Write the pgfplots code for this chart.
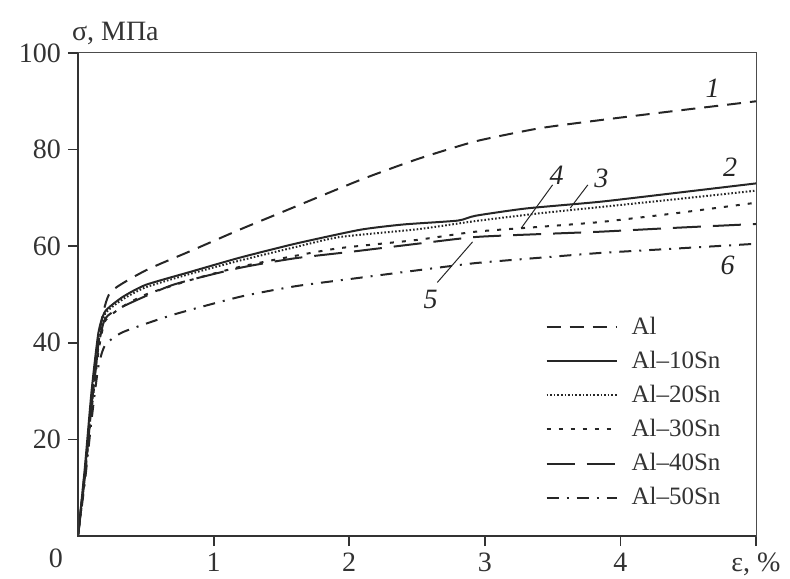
\documentclass[border=0pt]{standalone}
\usepackage{fontspec}
\setmainfont{Liberation Serif}
\usepackage{pgfplots}
\pgfplotsset{compat=1.18}

\pgfplotstableread{
x y
0 0
0.06 16
0.12 32
0.17 44
0.24 50.5
0.5 55
0.83 59
1.19 63.4
1.5 67
2.08 73.7
2.5 78
2.93 81.7
3.4 84.4
3.85 86.1
4.4 88
5 90
}\dataAl

\pgfplotstableread{
x y
0 0
0.05 14
0.1 30
0.15 42
0.2 46.5
0.33 49.5
0.5 52
0.83 54.7
1.19 57.6
1.6 60.5
2.08 63.4
2.4 64.5
2.8 65.3
2.93 66.3
3.3 67.8
3.85 69.2
4.4 71
5 73
}\dataTen

\pgfplotstableread{
x y
0 0
0.05 13
0.1 28
0.15 40
0.2 46
0.33 49
0.5 51.5
0.83 54.3
1.19 57
1.6 59.8
1.93 61.9
2.5 63.5
2.93 65.2
3.4 66.8
3.85 68.1
4.4 69.7
5 71.5
}\dataTwenty

\pgfplotstableread{
x y
0 0
0.05 12
0.1 26
0.15 38
0.2 44.5
0.33 47.5
0.5 50
0.83 53
1.19 55.7
1.6 58
1.93 59.6
2.5 61.3
2.93 63
3.4 64
3.85 65
4.4 66.8
5 69
}\dataThirty

\pgfplotstableread{
x y
0 0
0.05 12
0.1 27
0.15 39
0.2 45
0.33 47.5
0.7 52
1.19 55.5
1.6 57.5
2 58.8
2.5 60.5
2.93 61.9
3.4 62.5
3.85 63
4.4 63.8
5 64.6
}\dataForty

\pgfplotstableread{
x y
0 0
0.05 11
0.1 24
0.15 35
0.2 39.5
0.33 42.2
0.7 45.8
1.19 49.5
1.6 51.7
2.06 53.4
2.5 55
2.93 56.5
3.4 57.6
3.85 58.6
4.4 59.5
5 60.5
}\dataFifty

\begin{document}
\begin{tikzpicture}
\useasboundingbox (-39pt,-21pt) rectangle (356pt,268pt);
\begin{axis}[
    scale only axis,
    width=339pt, height=241.5pt,
    xmin=0, xmax=5,
    ymin=0, ymax=100,
    clip=false,
    xtick={1,2,3,4,5},
    xticklabels={1,2,3,4,{ε, \%}},
    ytick={20,40,60,80,100},
    tick pos=left,
    tick align=outside,
    major tick length=5pt,
    tick style={line width=0.9pt, black!80},
    axis line style={line width=0.5pt, black!70},
    /pgf/number format/assume math mode=true,
    tick label style={font=\fontsize{14}{16}\selectfont, black!80},
    ylabel={σ, МПа},
    ylabel style={rotate=-90, at={(axis description cs:0,1)}, anchor=base west,
        xshift=-6.5pt, yshift=6pt, font=\fontsize{14}{16}\selectfont, black!80},
    legend cell align=left,
    legend image code/.code={\draw[#1] (2pt,0pt) -- (37pt,0pt);},
    legend style={draw=none, fill=none, at={(axis description cs:0.689,0.463)},
        anchor=north west, font=\fontsize{12.5}{15}\selectfont, text=black!80,
        row sep=2.9pt, inner sep=0pt, nodes={inner xsep=7pt}},
    every axis plot/.append style={line width=1pt, black!85, smooth, tension=0.35},
]
\addplot[dash pattern=on 7pt off 4.5pt] table {\dataAl};
\addplot[solid] table {\dataTen};
\addplot[dash pattern=on 0.8pt off 1pt] table {\dataTwenty};
\addplot[dash pattern=on 2pt off 4pt] table {\dataThirty};
\addplot[dash pattern=on 14pt off 6pt] table {\dataForty};
\addplot[dash pattern=on 6pt off 4pt on 1pt off 4pt] table {\dataFifty};
\legend{Al, Al–10Sn, Al–20Sn, Al–30Sn, Al–40Sn, Al–50Sn}

\draw[line width=0.9pt, black!80] (rel axis cs:0,1) -- (rel axis cs:0,0) -- (rel axis cs:1,0);
\node[font=\fontsize{14}{16}\selectfont, text=black!80, anchor=north east] at (axis cs:0,0) [xshift=-4pt, yshift=-3pt] {0};

\begin{scope}[font=\fontsize{14}{16}\selectfont\itshape, text=black!85]
\node at (axis cs:4.68,92.8) {1};
\node at (axis cs:4.81,76.4) {2};
\node at (axis cs:3.86,74.1) {3};
\node at (axis cs:3.53,74.7) {4};
\node at (axis cs:2.60,48.9) {5};
\node at (axis cs:4.79,56.1) {6};
\end{scope}
\draw[line width=0.5pt, black!85] (axis cs:3.50,72.7) -- (axis cs:3.27,63.8);
\draw[line width=0.5pt, black!85] (axis cs:3.76,72.7) -- (axis cs:3.63,67.9);
\draw[line width=0.5pt, black!85] (axis cs:2.65,52.5) -- (axis cs:2.91,60.9);
\end{axis}
\end{tikzpicture}
\end{document}
